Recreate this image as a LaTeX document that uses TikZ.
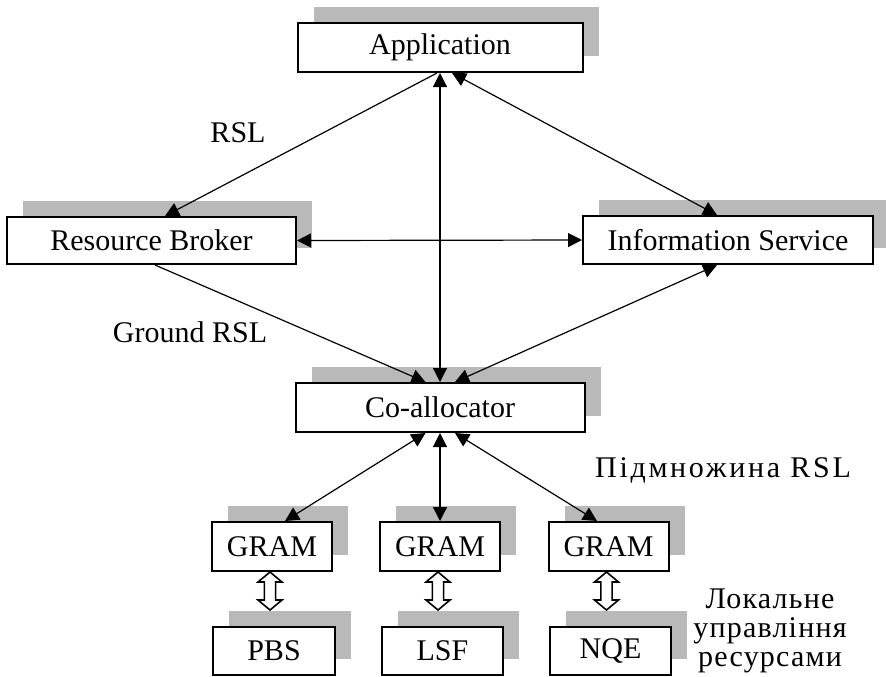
\documentclass[tikz,border=0pt]{standalone}
\usepackage{fontspec}
\setmainfont{Liberation Serif}
\usetikzlibrary{arrows.meta,shadows,calc}
\definecolor{shadowgray}{RGB}{185,185,185}
\begin{document}
\begin{tikzpicture}[x=0.5pt,y=-0.5pt,
  box/.style={draw, line width=1pt, fill=white, inner sep=0pt,
    font=\fontsize{15}{18}\selectfont,
    drop shadow={shadow xshift=8pt, shadow yshift=8pt, fill=shadowgray, opacity=1}},
  conn/.style={line width=0.6pt},
  tipboth/.style={{Triangle[length=7pt,width=7pt]}-{Triangle[length=7pt,width=7pt]}},
  tipend/.style={-{Triangle[length=7pt,width=7pt]}},
  dblarr/.style={draw, fill=white, line width=0.8pt, line join=miter,
    to path={let \p1=(\tikztostart), \p2=(\tikztotarget) in
      (\x1,\y1) -- (\x1-6pt,\y1-5pt) -- (\x1-2.8pt,\y1-5pt) -- (\x1-2.8pt,\y2+5pt)
      -- (\x1-6pt,\y2+5pt) -- (\x1,\y2) -- (\x1+6pt,\y2+5pt) -- (\x1+2.8pt,\y2+5pt)
      -- (\x1+2.8pt,\y1-5pt) -- (\x1+6pt,\y1-5pt) -- cycle}},
  lbl/.style={font=\fontsize{15}{18}\selectfont, inner sep=0pt}]
\useasboundingbox (0,0) rectangle (886,676);
% boxes
\node[box, minimum width=142.5pt, minimum height=24.5pt] (app) at (440,47.5) {Application};
\node[box, minimum width=144.5pt, minimum height=23.5pt] (rb) at (151.5,240.5) {Resource Broker};
\node[box, minimum width=145pt, minimum height=24pt] (info) at (728,240) {Information Service};
\node[box, minimum width=144.5pt, minimum height=24.5pt] (co) at (440,407.5) {Co-allocator};
\node[box, minimum width=60pt, minimum height=24.5pt] (g1) at (272,546.5) {GRAM};
\node[box, minimum width=60pt, minimum height=24.5pt] (g2) at (440,546.5) {GRAM};
\node[box, minimum width=60pt, minimum height=24.5pt] (g3) at (608.5,546.5) {GRAM};
\node[box, minimum width=61pt, minimum height=24pt] (pbs) at (274,651) {PBS};
\node[box, minimum width=60.5pt, minimum height=24pt] (lsf) at (442.5,651) {LSF};
\node[box, minimum width=60.5pt, minimum height=24pt] (nqe) at (610.5,651) {NQE};
% labels
\node[lbl] (lrsl) at (238,133) {RSL};
\node[lbl] (lground) at (190,332) {Ground RSL};
\node[lbl] (lsub) at (723,470) {\addfontfeature{LetterSpace=9}Підмножина RSL};
\node[lbl, align=center, font=\fontsize{15}{14.5}\selectfont\addfontfeature{LetterSpace=4}] (lloc) at (770,631) {Локальне\\управління\\ресурсами};
% connectors
\draw[conn, tipend] ([xshift=-1.5pt]app.south) -- ([xshift=6.75pt]rb.north);
\draw[conn, tipboth] (app.south) -- (co.north);
\draw[conn, tipboth] ([xshift=6pt]app.south) -- ([xshift=-5.5pt]info.north);
\draw[conn, tipboth] (rb.east) -- (info.west);
\draw[conn, tipend] ([xshift=1.75pt]rb.south) -- ([xshift=-7.25pt]co.north);
\draw[conn, tipboth] ([xshift=-5.5pt]info.south) -- ([xshift=7.5pt]co.north);
\draw[conn, tipboth] ([xshift=-7.25pt]co.south) -- ([xshift=6.5pt]g1.north);
\draw[conn, tipboth] (co.south) -- (g2.north);
\draw[conn, tipboth] ([xshift=7.5pt]co.south) -- ([xshift=-5.75pt]g3.north);
% double arrows to shadow tops
\coordinate (p1) at ([yshift=8pt]pbs.north);
\coordinate (p2) at ([yshift=8pt]lsf.north);
\coordinate (p3) at ([yshift=8pt]nqe.north);
\path[dblarr] ([xshift=-1pt]g1.south) to ([xshift=-1pt]g1.south |- p1);
\path[dblarr] ([xshift=-1pt]g2.south) to ([xshift=-1pt]g2.south |- p2);
\path[dblarr] ([xshift=-1pt]g3.south) to ([xshift=-1pt]g3.south |- p3);
\end{tikzpicture}
\end{document}
